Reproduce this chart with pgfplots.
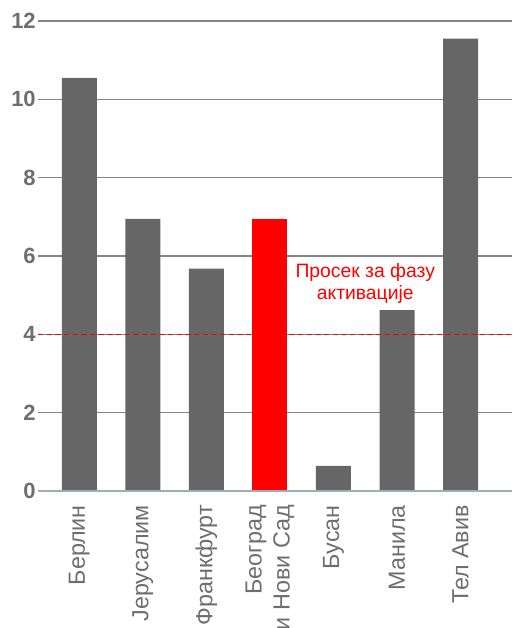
\documentclass[border=0pt]{standalone}
\usepackage{pgfplots}
\pgfplotsset{compat=1.18}
\usepackage{fontspec}
\setmainfont{Liberation Sans}
\definecolor{bargray}{HTML}{666666}
\definecolor{gridgray}{HTML}{858585}
\definecolor{labgray}{HTML}{6E6E6E}
\definecolor{zeroline}{HTML}{9DAEBB}
\begin{document}
\begin{tikzpicture}
\begin{axis}[
  scale only axis,
  width=355.5pt, height=352.5pt,
  xmin=-0.65, xmax=6.81,
  ymin=0, ymax=12,
  ytick={0,2,4,6,8,10,12},
  xtick={0,1,2,3,4,5,6},
  xticklabels={Берлин,Јерусалим,Франкфурт,{Београд\\и Нови Сад},Бусан,Манила,Тел Авив},
  axis line style={draw=none},
  major tick length=0pt,
  ymajorgrids,
  grid style={gridgray, line width=0.9pt},
  /pgf/number format/assume math mode=true,
  yticklabel style={font=\fontsize{16.5}{19}\selectfont\bfseries, text=labgray, inner sep=1.5pt},
  xticklabel style={font=\fontsize{17.5}{21}\selectfont, text=labgray, rotate=90, anchor=east, align=right, inner sep=0pt, xshift=-10.5pt},
  clip=false,
]
\addplot[ybar, bar width=26.25pt, fill=bargray, draw=none] coordinates {
  (0,10.55) (1,6.95) (2,5.68) (4,0.64) (5,4.62) (6,11.55)
};
\addplot[ybar, bar width=26.25pt, fill=red, draw=none] coordinates {
  (3,6.95)
};
\addplot[zeroline, line width=1pt] coordinates {(-0.65,0) (6.81,0)};
\addplot[red, line width=0.9pt, dash pattern=on 4pt off 2.5pt] coordinates {(-0.65,4) (6.81,4)};
\node[text=red, font=\fontsize{14.5}{16.5}\selectfont, align=center] at (axis cs:4.5,5.3) {Просек за фазу\\активације};
\coordinate (SW) at (rel axis cs:0,0);
\coordinate (NE) at (rel axis cs:1,1);
\end{axis}
\pgfresetboundingbox
\path[use as bounding box] ([xshift=-28.5pt,yshift=-102.75pt]SW) rectangle ([yshift=15.75pt]NE);
\end{tikzpicture}
\end{document}
